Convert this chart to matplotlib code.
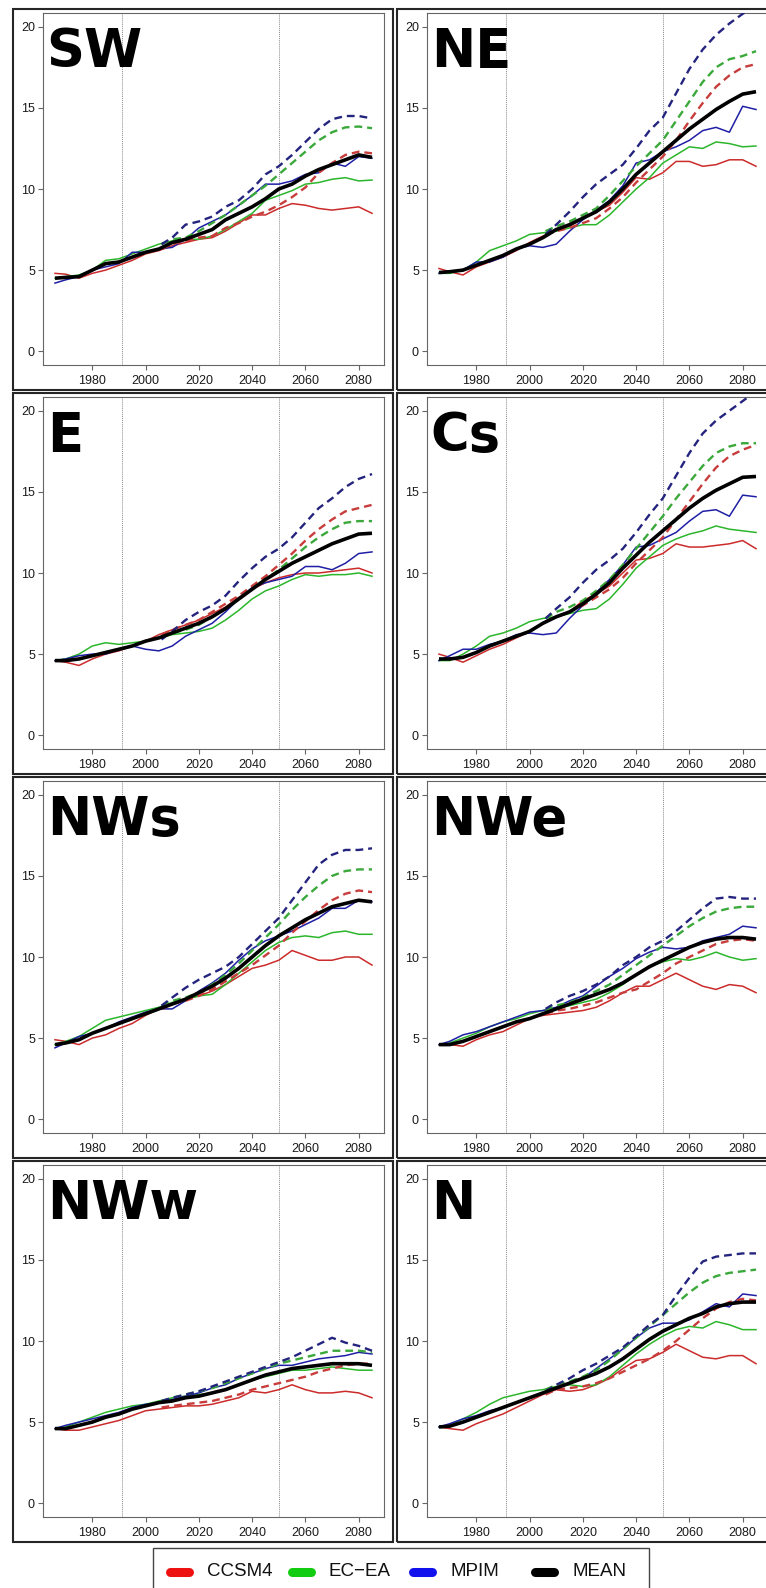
import matplotlib
matplotlib.use("Agg")
import matplotlib.pyplot as plt
from matplotlib.patches import Rectangle
from matplotlib.lines import Line2D

plt.rcParams["font.family"] = ["Liberation Sans", "DejaVu Sans"]

# ---------------------------------------------------------------------------
# Data: annual values sampled every 5 years
# ---------------------------------------------------------------------------
YEARS = [1966, 1970, 1975, 1980, 1985, 1990, 1995, 2000, 2005, 2010, 2015, 2020,
         2025, 2030, 2035, 2040, 2045, 2050, 2055, 2060, 2065, 2070, 2075, 2080, 2085]
SCEN_YEARS = [2006, 2010, 2015, 2020, 2025, 2030, 2035, 2040, 2045, 2050, 2055,
              2060, 2065, 2070, 2075, 2080, 2085]

REGIONS = ["SW", "NE", "E", "Cs", "NWs", "NWe", "NWw", "N"]
MODELS = ["CCSM4", "EC\u2212EA", "MPIM"]

# SW
SW_CCSM4 = [4.8, 4.75, 4.5, 4.8, 5.0, 5.3, 5.6, 6.0, 6.2, 6.5, 6.7, 6.9, 7.0, 7.4, 7.9, 8.4, 8.4, 8.8, 9.1, 9.0, 8.8, 8.7, 8.8, 8.9, 8.5]
SW_ECEA = [4.5, 4.6, 4.7, 5.0, 5.6, 5.7, 6.0, 6.3, 6.6, 6.8, 6.9, 6.9, 7.1, 7.5, 8.0, 8.5, 9.3, 9.6, 9.9, 10.3, 10.4, 10.6, 10.7, 10.5, 10.55]
SW_MPIM = [4.2, 4.4, 4.6, 5.0, 5.2, 5.4, 6.1, 6.1, 6.3, 6.4, 6.9, 7.6, 8.0, 8.4, 9.0, 9.6, 10.3, 10.3, 10.5, 10.9, 11.0, 11.6, 11.4, 12.0, 11.9]
SW_CCSM4_HI = [6.3, 6.6, 6.8, 7.0, 7.1, 7.6, 7.9, 8.3, 8.6, 9.0, 9.5, 10.1, 11.0, 11.6, 12.1, 12.3, 12.2]
SW_ECEA_HI = [6.6, 6.9, 7.0, 7.4, 7.9, 8.4, 9.0, 9.6, 10.2, 10.9, 11.6, 12.3, 13.0, 13.5, 13.8, 13.85, 13.75]
SW_MPIM_HI = [6.6, 7.0, 7.8, 8.0, 8.3, 8.9, 9.3, 10.0, 10.9, 11.4, 12.1, 12.9, 13.7, 14.3, 14.5, 14.5, 14.35]
SW_MEAN = [4.5, 4.55, 4.6, 5.0, 5.4, 5.5, 5.8, 6.1, 6.3, 6.7, 6.9, 7.2, 7.5, 8.1, 8.5, 8.9, 9.4, 10.0, 10.3, 10.8, 11.2, 11.5, 11.8, 12.1, 11.95]

# NE
NE_CCSM4 = [5.1, 4.9, 4.7, 5.2, 5.5, 5.8, 6.2, 6.7, 7.1, 7.5, 7.7, 8.2, 8.6, 9.0, 9.8, 10.7, 10.6, 11.0, 11.7, 11.7, 11.4, 11.5, 11.8, 11.8, 11.4]
NE_ECEA = [4.8, 4.8, 5.0, 5.5, 6.2, 6.5, 6.8, 7.2, 7.3, 7.4, 7.6, 7.8, 7.8, 8.4, 9.2, 10.0, 10.7, 11.6, 12.1, 12.6, 12.5, 12.9, 12.8, 12.6, 12.65]
NE_MPIM = [4.8, 4.9, 5.0, 5.5, 5.5, 5.8, 6.3, 6.5, 6.4, 6.6, 7.4, 8.1, 8.7, 9.3, 10.2, 11.6, 11.8, 12.3, 12.6, 13.0, 13.6, 13.8, 13.5, 15.1, 14.9]
NE_CCSM4_HI = [7.2, 7.4, 7.6, 7.9, 8.2, 8.8, 9.5, 10.4, 11.2, 12.0, 13.0, 14.2, 15.3, 16.3, 17.0, 17.5, 17.7]
NE_ECEA_HI = [7.4, 7.7, 8.0, 8.4, 8.8, 9.6, 10.5, 11.4, 12.2, 13.0, 14.2, 15.4, 16.6, 17.5, 18.0, 18.2, 18.5]
NE_MPIM_HI = [7.2, 7.8, 8.6, 9.5, 10.3, 10.9, 11.5, 12.5, 13.6, 14.4, 15.9, 17.4, 18.6, 19.5, 20.2, 20.8, 21.3]
NE_MEAN = [4.85, 4.9, 5.0, 5.3, 5.6, 5.9, 6.3, 6.6, 7.0, 7.5, 7.8, 8.2, 8.6, 9.2, 10.0, 10.9, 11.6, 12.3, 13.0, 13.7, 14.3, 14.9, 15.4, 15.85, 16.0]

# E
E_CCSM4 = [4.6, 4.5, 4.3, 4.7, 5.0, 5.2, 5.5, 5.8, 6.2, 6.5, 6.8, 7.1, 7.5, 7.9, 8.5, 9.0, 9.4, 9.7, 9.9, 10.0, 10.0, 10.1, 10.2, 10.3, 10.0]
E_ECEA = [4.6, 4.7, 5.0, 5.5, 5.7, 5.6, 5.7, 5.8, 6.0, 6.2, 6.3, 6.4, 6.6, 7.1, 7.7, 8.4, 8.9, 9.2, 9.6, 9.9, 9.8, 9.9, 9.9, 10.0, 9.8]
E_MPIM = [4.6, 4.7, 4.9, 5.0, 5.0, 5.3, 5.5, 5.3, 5.2, 5.5, 6.1, 6.5, 6.9, 7.6, 8.4, 9.1, 9.4, 9.6, 9.8, 10.4, 10.4, 10.2, 10.6, 11.2, 11.3]
E_CCSM4_HI = [6.2, 6.5, 6.8, 7.1, 7.6, 8.1, 8.6, 9.2, 9.8, 10.5, 11.2, 12.0, 12.7, 13.3, 13.8, 14.0, 14.2]
E_ECEA_HI = [6.0, 6.3, 6.5, 6.8, 7.3, 7.8, 8.4, 9.0, 9.6, 10.2, 10.9, 11.6, 12.2, 12.7, 13.1, 13.2, 13.2]
E_MPIM_HI = [5.9, 6.4, 7.1, 7.6, 8.0, 8.6, 9.5, 10.3, 11.0, 11.5, 12.2, 13.1, 14.0, 14.6, 15.3, 15.8, 16.1]
E_MEAN = [4.6, 4.6, 4.7, 4.9, 5.1, 5.3, 5.5, 5.8, 6.0, 6.3, 6.6, 6.9, 7.3, 7.8, 8.4, 9.0, 9.6, 10.1, 10.6, 11.0, 11.4, 11.8, 12.1, 12.4, 12.45]

# Cs
CS_CCSM4 = [5.0, 4.8, 4.5, 4.9, 5.3, 5.6, 6.0, 6.4, 6.9, 7.3, 7.6, 8.3, 8.7, 9.2, 10.0, 10.8, 10.9, 11.2, 11.8, 11.6, 11.6, 11.7, 11.8, 12.0, 11.5]
CS_ECEA = [4.6, 4.6, 5.0, 5.5, 6.1, 6.3, 6.6, 7.0, 7.2, 7.3, 7.5, 7.7, 7.8, 8.4, 9.3, 10.3, 11.0, 11.7, 12.1, 12.4, 12.6, 12.9, 12.7, 12.6, 12.5]
CS_MPIM = [4.6, 4.9, 5.3, 5.3, 5.6, 5.8, 6.2, 6.3, 6.2, 6.3, 7.2, 8.0, 8.8, 9.6, 10.5, 11.6, 11.7, 12.1, 12.5, 13.2, 13.8, 13.9, 13.5, 14.8, 14.7]
CS_CCSM4_HI = [7.0, 7.3, 7.6, 8.0, 8.5, 9.0, 9.7, 10.6, 11.4, 12.2, 13.3, 14.4, 15.5, 16.5, 17.2, 17.6, 17.9]
CS_ECEA_HI = [7.2, 7.6, 7.9, 8.3, 8.9, 9.6, 10.5, 11.5, 12.5, 13.5, 14.6, 15.6, 16.6, 17.4, 17.8, 18.0, 18.0]
CS_MPIM_HI = [7.2, 7.8, 8.5, 9.4, 10.2, 10.8, 11.5, 12.5, 13.6, 14.6, 16.0, 17.4, 18.6, 19.4, 20.0, 20.6, 21.2]
CS_MEAN = [4.7, 4.7, 4.8, 5.1, 5.5, 5.8, 6.1, 6.4, 6.9, 7.3, 7.6, 8.1, 8.7, 9.4, 10.3, 11.1, 11.9, 12.6, 13.3, 14.0, 14.6, 15.1, 15.5, 15.9, 15.95]

# NWs
NWS_CCSM4 = [4.9, 4.8, 4.6, 5.0, 5.2, 5.6, 5.9, 6.4, 6.8, 7.1, 7.4, 7.6, 7.9, 8.3, 8.8, 9.3, 9.5, 9.8, 10.4, 10.1, 9.8, 9.8, 10.0, 10.0, 9.5]
NWS_ECEA = [4.6, 4.8, 5.1, 5.6, 6.1, 6.3, 6.5, 6.7, 6.9, 7.2, 7.4, 7.6, 7.7, 8.3, 9.0, 9.7, 10.4, 10.9, 11.2, 11.3, 11.2, 11.5, 11.6, 11.4, 11.4]
NWS_MPIM = [4.4, 4.7, 5.1, 5.3, 5.6, 6.0, 6.3, 6.6, 6.8, 6.8, 7.3, 7.9, 8.4, 9.0, 9.8, 10.5, 11.0, 11.3, 11.6, 12.0, 12.4, 13.0, 13.0, 13.5, 13.4]
NWS_CCSM4_HI = [6.8, 7.1, 7.3, 7.6, 8.0, 8.5, 9.0, 9.5, 10.1, 10.7, 11.5, 12.2, 12.9, 13.5, 13.9, 14.1, 14.0]
NWS_ECEA_HI = [7.0, 7.3, 7.5, 7.8, 8.3, 8.9, 9.6, 10.4, 11.2, 12.0, 12.9, 13.7, 14.4, 15.0, 15.3, 15.4, 15.4]
NWS_MPIM_HI = [7.0, 7.5, 8.1, 8.6, 9.0, 9.4, 10.0, 10.8, 11.6, 12.4, 13.5, 14.6, 15.7, 16.3, 16.6, 16.6, 16.7]
NWS_MEAN = [4.6, 4.7, 4.9, 5.3, 5.6, 5.9, 6.2, 6.5, 6.8, 7.1, 7.4, 7.8, 8.2, 8.7, 9.3, 10.0, 10.7, 11.3, 11.8, 12.3, 12.7, 13.1, 13.3, 13.5, 13.4]

# NWe
NWE_CCSM4 = [4.6, 4.6, 4.5, 4.9, 5.2, 5.4, 5.8, 6.2, 6.4, 6.5, 6.6, 6.7, 6.9, 7.3, 7.8, 8.2, 8.2, 8.6, 9.0, 8.6, 8.2, 8.0, 8.3, 8.2, 7.8]
NWE_ECEA = [4.6, 4.7, 5.0, 5.3, 5.7, 6.0, 6.2, 6.5, 6.7, 6.8, 7.0, 7.2, 7.4, 7.8, 8.3, 8.9, 9.4, 9.7, 9.9, 9.8, 10.0, 10.3, 10.0, 9.8, 9.9]
NWE_MPIM = [4.6, 4.8, 5.2, 5.4, 5.7, 6.0, 6.3, 6.6, 6.7, 6.9, 7.3, 7.6, 8.2, 8.8, 9.3, 9.9, 10.3, 10.6, 10.5, 10.6, 11.0, 11.2, 11.4, 11.9, 11.8]
NWE_CCSM4_HI = [6.5, 6.7, 6.8, 7.0, 7.2, 7.5, 7.8, 8.0, 8.5, 9.0, 9.6, 10.0, 10.4, 10.8, 11.0, 11.1, 11.0]
NWE_ECEA_HI = [6.7, 7.0, 7.2, 7.5, 7.9, 8.3, 8.9, 9.5, 10.1, 10.7, 11.3, 11.9, 12.4, 12.8, 13.0, 13.1, 13.1]
NWE_MPIM_HI = [6.8, 7.2, 7.6, 7.9, 8.3, 8.8, 9.5, 10.0, 10.6, 11.0, 11.6, 12.3, 13.0, 13.6, 13.7, 13.6, 13.6]
NWE_MEAN = [4.6, 4.6, 4.8, 5.1, 5.4, 5.7, 6.0, 6.2, 6.5, 6.8, 7.1, 7.4, 7.7, 8.0, 8.4, 8.9, 9.4, 9.8, 10.2, 10.6, 10.9, 11.1, 11.2, 11.2, 11.1]

# NWw
NWW_CCSM4 = [4.6, 4.5, 4.5, 4.7, 4.9, 5.1, 5.4, 5.7, 5.8, 5.9, 6.0, 6.0, 6.1, 6.3, 6.5, 6.9, 6.8, 7.0, 7.3, 7.0, 6.8, 6.8, 6.9, 6.8, 6.5]
NWW_ECEA = [4.6, 4.7, 5.0, 5.3, 5.6, 5.8, 6.0, 6.1, 6.3, 6.5, 6.6, 6.7, 6.8, 7.0, 7.3, 7.6, 7.8, 8.0, 8.2, 8.2, 8.3, 8.4, 8.3, 8.2, 8.2]
NWW_MPIM = [4.6, 4.8, 5.0, 5.2, 5.4, 5.6, 5.9, 6.1, 6.2, 6.4, 6.6, 6.8, 7.1, 7.3, 7.7, 8.0, 8.3, 8.5, 8.5, 8.7, 8.9, 9.0, 9.1, 9.3, 9.2]
NWW_CCSM4_HI = [5.9, 6.0, 6.1, 6.2, 6.3, 6.5, 6.7, 7.0, 7.2, 7.4, 7.6, 7.8, 8.1, 8.3, 8.5, 8.6, 8.6]
NWW_ECEA_HI = [6.3, 6.5, 6.7, 6.9, 7.1, 7.4, 7.7, 8.0, 8.3, 8.6, 8.8, 9.0, 9.2, 9.4, 9.4, 9.4, 9.3]
NWW_MPIM_HI = [6.3, 6.5, 6.7, 6.9, 7.2, 7.5, 7.8, 8.1, 8.4, 8.7, 9.0, 9.4, 9.8, 10.2, 9.9, 9.7, 9.4]
NWW_MEAN = [4.6, 4.6, 4.8, 5.0, 5.3, 5.5, 5.8, 6.0, 6.2, 6.3, 6.5, 6.6, 6.8, 7.0, 7.3, 7.6, 7.9, 8.1, 8.3, 8.4, 8.5, 8.6, 8.6, 8.6, 8.5]

# N
N_CCSM4 = [4.7, 4.6, 4.5, 4.9, 5.2, 5.5, 5.9, 6.3, 6.7, 7.0, 6.9, 7.0, 7.3, 7.7, 8.3, 8.8, 8.9, 9.3, 9.8, 9.4, 9.0, 8.9, 9.1, 9.1, 8.6]
N_ECEA = [4.7, 4.8, 5.2, 5.6, 6.1, 6.5, 6.7, 6.9, 7.0, 7.2, 7.3, 7.2, 7.3, 7.8, 8.5, 9.2, 9.8, 10.3, 10.7, 10.9, 10.8, 11.2, 11.0, 10.7, 10.7]
N_MPIM = [4.7, 4.9, 5.2, 5.4, 5.7, 5.9, 6.2, 6.5, 6.8, 7.1, 7.4, 7.7, 8.3, 8.9, 9.5, 10.2, 10.8, 11.1, 11.1, 11.3, 11.8, 12.3, 12.1, 12.9, 12.8]
N_CCSM4_HI = [6.7, 7.0, 7.1, 7.2, 7.4, 7.7, 8.1, 8.5, 8.9, 9.4, 10.0, 10.7, 11.4, 12.0, 12.4, 12.6, 12.5]
N_ECEA_HI = [7.0, 7.3, 7.5, 7.8, 8.2, 8.8, 9.5, 10.2, 10.9, 11.6, 12.3, 13.0, 13.6, 14.0, 14.2, 14.3, 14.4]
N_MPIM_HI = [6.9, 7.3, 7.7, 8.2, 8.6, 9.1, 9.6, 10.3, 11.0, 11.6, 12.8, 13.9, 14.9, 15.2, 15.3, 15.4, 15.4]
N_MEAN = [4.7, 4.75, 5.0, 5.3, 5.6, 5.9, 6.2, 6.5, 6.8, 7.1, 7.4, 7.7, 8.0, 8.4, 8.9, 9.5, 10.1, 10.6, 11.0, 11.4, 11.7, 12.1, 12.3, 12.4, 12.4]

# Table of series per region: (three models, three models high scenario, mean)
SERIES = {
    "SW": (SW_CCSM4, SW_ECEA, SW_MPIM, SW_CCSM4_HI, SW_ECEA_HI, SW_MPIM_HI, SW_MEAN),
    "NE": (NE_CCSM4, NE_ECEA, NE_MPIM, NE_CCSM4_HI, NE_ECEA_HI, NE_MPIM_HI, NE_MEAN),
    "E": (E_CCSM4, E_ECEA, E_MPIM, E_CCSM4_HI, E_ECEA_HI, E_MPIM_HI, E_MEAN),
    "Cs": (CS_CCSM4, CS_ECEA, CS_MPIM, CS_CCSM4_HI, CS_ECEA_HI, CS_MPIM_HI, CS_MEAN),
    "NWs": (NWS_CCSM4, NWS_ECEA, NWS_MPIM, NWS_CCSM4_HI, NWS_ECEA_HI, NWS_MPIM_HI, NWS_MEAN),
    "NWe": (NWE_CCSM4, NWE_ECEA, NWE_MPIM, NWE_CCSM4_HI, NWE_ECEA_HI, NWE_MPIM_HI, NWE_MEAN),
    "NWw": (NWW_CCSM4, NWW_ECEA, NWW_MPIM, NWW_CCSM4_HI, NWW_ECEA_HI, NWW_MPIM_HI, NWW_MEAN),
    "N": (N_CCSM4, N_ECEA, N_MPIM, N_CCSM4_HI, N_ECEA_HI, N_MPIM_HI, N_MEAN),
}

X_TICKS = [1980, 2000, 2020, 2040, 2060, 2080]
Y_TICKS = [0, 5, 10, 15, 20]
REF_YEARS = [1991, 2050]

# ---------------------------------------------------------------------------
# Styling
# ---------------------------------------------------------------------------
SOLID_COLORS = ["#cc2b2b", "#2cb62c", "#1f1fa6"]
DASH_COLORS = ["#c83c3c", "#3aa83a", "#24247e"]
LEGEND_COLORS = ["#ee1111", "#11cc11", "#1111ee", "#000000"]

W, H = 766, 1588
fig = plt.figure(figsize=(W / 100, H / 100), dpi=100)
fig.patch.set_facecolor("white")


def fx(px):
    return px / W


def fy(py):
    return 1 - py / H


BOX_W, BOX_H, STEP = 380, 381, 384
AX_DX, AX_DY, AX_W, AX_H = 30, 4, 341, 352

for i, region in enumerate(REGIONS):
    row, col = divmod(i, 2)
    bx = 13 + STEP * col
    by = 9 + STEP * row
    fig.add_artist(Rectangle((fx(bx), fy(by + BOX_H)), BOX_W / W, BOX_H / H,
                             transform=fig.transFigure, fill=False,
                             ec="#262626", lw=1.5))
    ax = fig.add_axes([fx(bx + AX_DX), fy(by + AX_DY + AX_H), AX_W / W, AX_H / H])

    data = SERIES[region]
    for k in range(3):
        ax.plot(YEARS, data[k], color=SOLID_COLORS[k], lw=1.1, zorder=2)
    for k in range(3):
        ax.plot(SCEN_YEARS, data[3 + k], color=DASH_COLORS[k], lw=1.7,
                dashes=(3.3, 2.1), zorder=3)
    ax.plot(YEARS, data[6], color="black", lw=2.6, zorder=4,
            solid_capstyle="butt")

    for yr in REF_YEARS:
        ax.axvline(yr, color="#8a8a8a", lw=0.7, ls=(0, (1, 1)), zorder=1)

    ax.set_xlim(1961.5, 2089.5)
    ax.set_ylim(-0.85, 20.85)
    ax.set_xticks(X_TICKS)
    ax.set_yticks(Y_TICKS)
    ax.tick_params(axis="both", direction="out", length=3.8, width=0.8,
                   color="#666666", labelsize=9, labelcolor="#1a1a1a")
    ax.tick_params(axis="y", pad=2)
    ax.tick_params(axis="x", pad=3.5)
    for s in ax.spines.values():
        s.set_color("#666666")
        s.set_linewidth(0.8)

    ax.text(1962.9, 17.5, region, fontsize=38, fontweight="bold",
            family="DejaVu Sans", ha="left", va="baseline", color="black",
            zorder=5)

# Legend
fig.add_artist(Rectangle((fx(152.7), fy(1600)), (649 - 152.7) / W, (1600 - 1548) / H,
                         transform=fig.transFigure, fill=False, ec="#444444", lw=1.0))
labels = MODELS + ["MEAN"]
patch_x = [179, 301, 422.5, 544.5]
text_x = [207, 328, 451, 572]
ly = 1572
for lab, col, px, tx in zip(labels, LEGEND_COLORS, patch_x, text_x):
    fig.add_artist(Line2D([fx(px - 9.5), fx(px + 9.5)], [fy(ly), fy(ly)],
                          transform=fig.transFigure, color=col, lw=6.5,
                          solid_capstyle="round"))
    fig.text(fx(tx), fy(ly), lab, fontsize=13.5, ha="left", va="center",
             color="#111111")

fig.savefig("out.png", dpi=100, facecolor="white")
